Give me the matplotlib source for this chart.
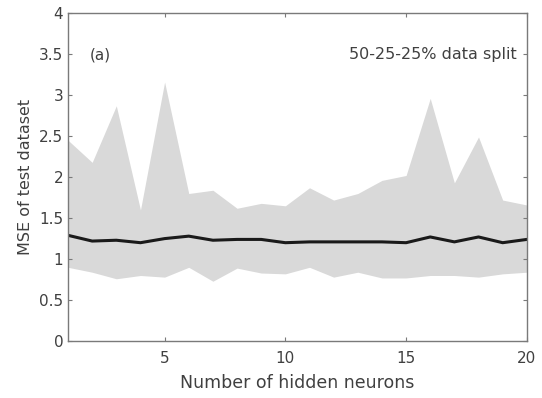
import numpy as np
import matplotlib
matplotlib.use("Agg")
import matplotlib.pyplot as plt

# MSE on the test set versus network size (mean, min and max over runs)
neurons = np.arange(1, 21)
mse_max = [2.45, 2.18, 2.87, 1.60, 3.16, 1.80, 1.84, 1.62, 1.68, 1.65,
           1.87, 1.72, 1.80, 1.96, 2.02, 2.96, 1.93, 2.49, 1.72, 1.66]
mse_min = [0.90, 0.84, 0.76, 0.80, 0.78, 0.90, 0.73, 0.89, 0.83, 0.82,
           0.90, 0.78, 0.84, 0.77, 0.77, 0.80, 0.80, 0.78, 0.82, 0.84]
mse_mean = [1.29, 1.22, 1.23, 1.20, 1.25, 1.28, 1.23, 1.24, 1.24, 1.20,
            1.21, 1.21, 1.21, 1.21, 1.20, 1.27, 1.21, 1.27, 1.20, 1.24]

plt.rcParams['font.family'] = ['DejaVu Sans']
txt_col = '#404040'
ax_col = '#7a7a7a'

fig = plt.figure(figsize=(5.42, 3.98), dpi=100)
ax = fig.add_axes([0.1255, 0.143, 0.8465, 0.824])

ax.fill_between(neurons, mse_min, mse_max, color='#d9d9d9', linewidth=0)
ax.plot(neurons, mse_mean, color='#1a1a1a', linewidth=2.2)

ax.set_xlim(1, 20)
ax.set_ylim(0, 4)
ax.set_xticks([5, 10, 15, 20])
ax.set_yticks(np.arange(0, 4.01, 0.5))
ax.set_yticklabels(['0', '0.5', '1', '1.5', '2', '2.5', '3', '3.5', '4'])

ax.tick_params(direction='in', length=3, width=0.8, colors=ax_col,
               labelcolor=txt_col, labelsize=11, top=True, right=True)
ax.tick_params(axis='x', pad=7)
for s in ax.spines.values():
    s.set_color(ax_col)
    s.set_linewidth(1.0)

ax.set_xlabel('Number of hidden neurons', fontsize=12.5, color=txt_col,
              labelpad=6)
ax.set_ylabel('MSE of test dataset', fontsize=11.5, color=txt_col,
              labelpad=4)

ax.text(1.9, 3.49, '(a)', fontsize=11, color=txt_col, va='center')
ax.text(19.6, 3.49, '50-25-25% data split', fontsize=11.5, color=txt_col,
        va='center', ha='right')

fig.savefig('out.png', dpi=100)
